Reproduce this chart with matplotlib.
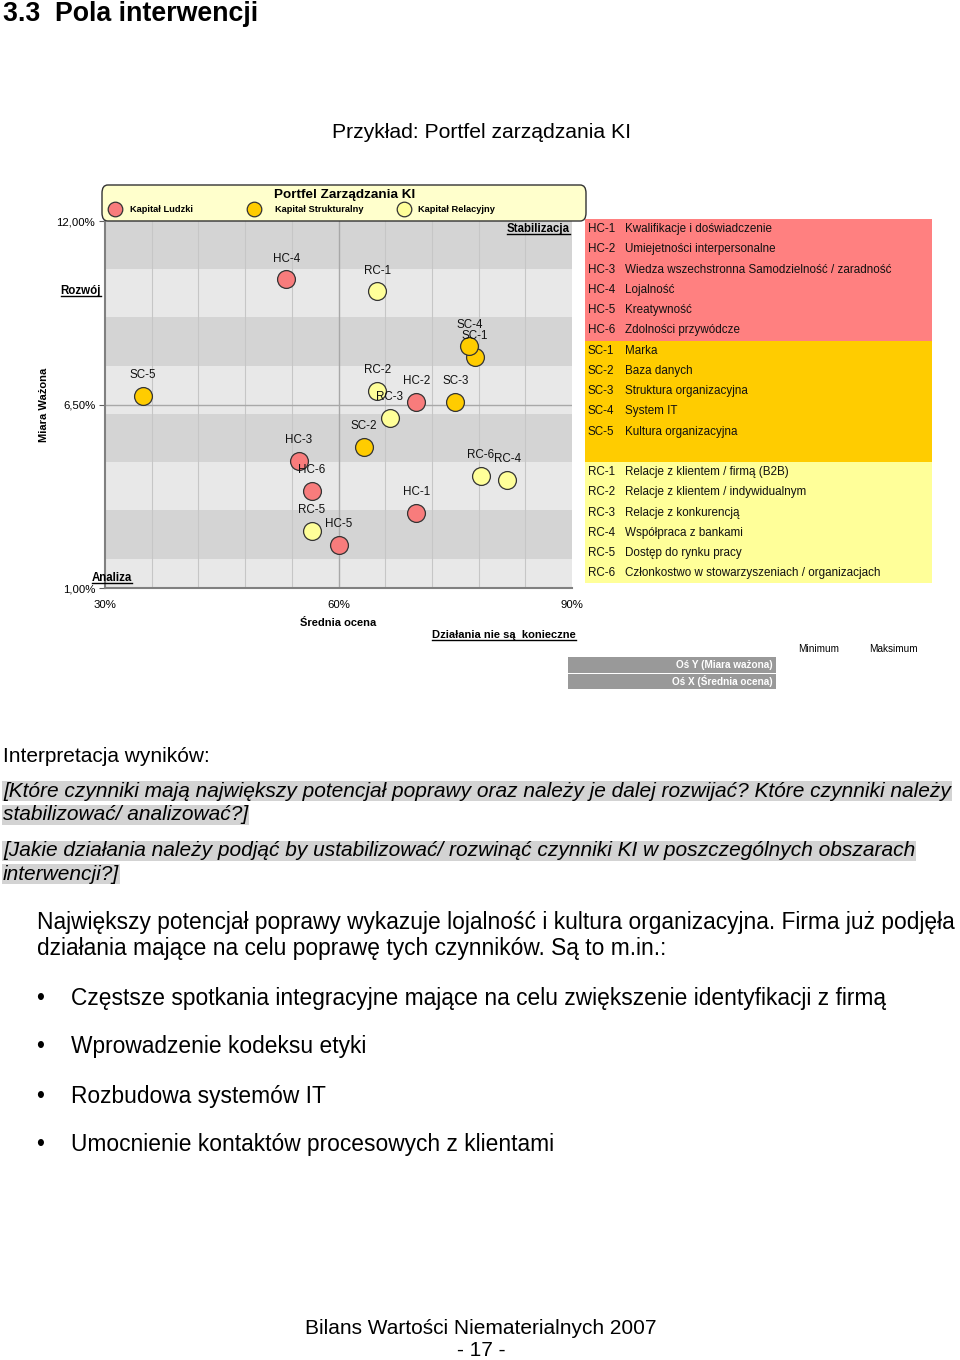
import numpy as np
import matplotlib
matplotlib.use('Agg')
import matplotlib.pyplot as plt
from matplotlib.patches import Rectangle, FancyBboxPatch
from matplotlib.lines import Line2D

plt.rcParams['font.family'] = ['Liberation Sans', 'DejaVu Sans']

# ---------------- data ----------------
codes = ['HC-1', 'HC-2', 'HC-3', 'HC-4', 'HC-5', 'HC-6',
         'SC-1', 'SC-2', 'SC-3', 'SC-4', 'SC-5',
         'RC-1', 'RC-2', 'RC-3', 'RC-4', 'RC-5', 'RC-6']
avg_score = [70.0, 70.0, 54.9, 53.3, 60.0, 56.6,
             77.5, 63.3, 75.0, 76.8, 34.9,
             65.0, 65.0, 66.6, 81.7, 56.6, 78.3]
weighted = [3.26, 6.58, 4.80, 10.25, 2.30, 3.92,
            7.93, 5.22, 6.58, 8.26, 6.76,
            9.89, 6.91, 6.09, 4.25, 2.72, 4.35]
descriptions = ['Kwalifikacje i doświadczenie', 'Umiejetności interpersonalne',
                'Wiedza wszechstronna Samodzielność / zaradność', 'Lojalność',
                'Kreatywność', 'Zdolności przywódcze',
                'Marka', 'Baza danych', 'Struktura organizacyjna', 'System IT',
                'Kultura organizacyjna',
                'Relacje z klientem / firmą (B2B)', 'Relacje z klientem / indywidualnym',
                'Relacje z konkurencją', 'Współpraca z bankami', 'Dostęp do rynku pracy',
                'Członkostwo w stowarzyszeniach / organizacjach']
groups = ['Kapitał Ludzki', 'Kapitał Strukturalny', 'Kapitał Relacyjny']
group_prefix = ['HC', 'SC', 'RC']
x_ticks = [30, 60, 90]
x_tick_labels = ['30%', '60%', '90%']
y_ticks = [1.0, 6.5, 12.0]
y_tick_labels = ['1,00%', '6,50%', '12,00%']
band_edges = [12.0, 10.55, 9.11, 7.66, 6.22, 4.77, 3.33, 1.88, 1.0]

# ---------------- style ----------------
marker_colors = {'HC': '#f87c7c', 'SC': '#ffcc00', 'RC': '#ffff99'}
table_colors = {'HC': '#ff8080', 'SC': '#ffcc00', 'RC': '#ffff99'}
W, H = 960, 1360
SMALL = 8.4

fig = plt.figure(figsize=(W / 100, H / 100), dpi=100)


def ftext(x, y, s, **kw):
    return fig.text(x / W, 1 - y / H, s, **kw)


def frect(x0, y0, x1, y1, **kw):
    r = Rectangle((x0 / W, 1 - y1 / H), (x1 - x0) / W, (y1 - y0) / H,
                  transform=fig.transFigure, **kw)
    fig.add_artist(r)
    return r


# ---------------- header ----------------
ftext(3, 14, '3.3  Pola interwencji', fontsize=19.3, fontweight='bold', va='center', ha='left')
ftext(482, 133, 'Przykład: Portfel zarządzania KI', fontsize=15.2, va='center', ha='center')

# ---------------- main axes ----------------
ax = fig.add_axes([105 / W, 1 - 588 / H, (572 - 105) / W, (588 - 221) / H])
ax.set_xlim(30, 90)
ax.set_ylim(1, 12)
for i in range(len(band_edges) - 1):
    ax.axhspan(band_edges[i + 1], band_edges[i],
               color='#d4d4d4' if i % 2 == 0 else '#e8e8e8', lw=0, zorder=0)
ax.set_xticks(np.arange(30, 91, 6), minor=True)
ax.grid(which='minor', axis='x', color='#c6c6c6', lw=0.8, zorder=1)
ax.set_axisbelow(True)
ax.axvline(60, color='#a8a8a8', lw=1.0, zorder=1)
ax.axhline(6.5, color='#a8a8a8', lw=1.0, zorder=1)

for p in ['HC', 'SC', 'RC']:
    xs = [x for c, x in zip(codes, avg_score) if c.startswith(p)]
    ys = [y for c, y in zip(codes, weighted) if c.startswith(p)]
    ax.scatter(xs, ys, s=165, color=marker_colors[p], edgecolor='#333333',
               linewidth=0.9, zorder=3, clip_on=False)
for c, x, y in zip(codes, avg_score, weighted):
    ax.annotate(c, (x, y), xytext=(0, 15), textcoords='offset points',
                ha='center', va='center', fontsize=SMALL, color='#111111', zorder=4)

ax.set_xticks(x_ticks)
ax.set_xticklabels(x_tick_labels, fontsize=8.2)
ax.set_yticks(y_ticks)
ax.set_yticklabels(y_tick_labels, fontsize=8.2)
ax.tick_params(axis='x', length=0, pad=9)
ax.tick_params(axis='y', length=4, pad=3, color='#606060')
ax.tick_params(which='minor', length=0)
for s in ['top', 'right']:
    ax.spines[s].set_visible(False)
for s in ['left', 'bottom']:
    ax.spines[s].set_color('#808080')
    ax.spines[s].set_linewidth(1.5)

# axis titles
ftext(338, 623, 'Średnia ocena', fontsize=8, fontweight='bold', ha='center', va='center')
ftext(44, 405, 'Miara Ważona', fontsize=8, fontweight='bold', ha='center', va='center',
      rotation=90)

# quadrant labels (underlined)
underlined = []
underlined.append(ftext(570, 232, 'Stabilizacja', fontsize=8.3, fontweight='bold',
                        ha='right', va='baseline'))
underlined.append(ftext(101, 294, 'Rozwój', fontsize=8.3, fontweight='bold',
                        ha='right', va='baseline'))
underlined.append(ftext(92, 581, 'Analiza', fontsize=8.3, fontweight='bold',
                        ha='left', va='baseline'))
underlined.append(ftext(504, 638, 'Działania nie są  konieczne', fontsize=8,
                        fontweight='bold', ha='center', va='baseline'))

# legend box
leg = FancyBboxPatch((102 / W, 1 - 221 / H), (586 - 102) / W, (221 - 185) / H,
                     boxstyle='round,pad=0,rounding_size=0.006',
                     transform=fig.transFigure, facecolor='#ffffcc',
                     edgecolor='#333333', lw=1.0, zorder=5)
fig.add_artist(leg)
ftext(345, 195, 'Portfel Zarządzania KI', fontsize=9.7, fontweight='bold',
      ha='center', va='center', zorder=6)
leg_marker_x = [115, 254, 404]
leg_text_x = [130, 275, 418]
for g, p, mx, tx in zip(groups, group_prefix, leg_marker_x, leg_text_x):
    fig.add_artist(Line2D([mx / W], [1 - 209 / H], marker='o', markersize=10.5,
                          markerfacecolor=marker_colors[p], markeredgecolor='#333333',
                          markeredgewidth=0.9, transform=fig.transFigure, zorder=6))
    ftext(tx, 209, g, fontsize=6.7, fontweight='bold', ha='left', va='center', zorder=6)

# ---------------- right table ----------------
row_h = (583.5 - 219) / 18
table_rows = codes[:11] + [None] + codes[11:]
table_desc = descriptions[:11] + [None] + descriptions[11:]
sections = [('HC', 0, 6), ('SC', 6, 12), ('RC', 12, 18)]
for p, a, b in sections:
    frect(585, 219 + a * row_h, 932, 219 + b * row_h, facecolor=table_colors[p],
          edgecolor='none')
for i, (c, d) in enumerate(zip(table_rows, table_desc)):
    if c is None:
        continue
    yc = 219 + (i + 0.5) * row_h
    ftext(588, yc, c, fontsize=SMALL, ha='left', va='center', color='#111111')
    ftext(625, yc, d, fontsize=SMALL, ha='left', va='center', color='#111111')

# min / max boxes
ftext(819, 649, 'Minimum', fontsize=7.2, ha='center', va='center')
ftext(893, 649, 'Maksimum', fontsize=7.2, ha='center', va='center')
frect(568, 657, 776, 672.5, facecolor='#999999', edgecolor='none')
frect(568, 673.5, 776, 689, facecolor='#999999', edgecolor='none')
ftext(773, 665, 'Oś Y (Miara ważona)', fontsize=7.2, fontweight='bold', color='white',
      ha='right', va='center')
ftext(773, 681, 'Oś X (Średnia ocena)', fontsize=7.2, fontweight='bold', color='white',
      ha='right', va='center')

# ---------------- body text ----------------
ftext(3, 756, 'Interpretacja wyników:', fontsize=15, ha='left', va='center')
hl = dict(facecolor='#d3d3d3', edgecolor='none', pad=0.6)
q_lines = [(791, '[Które czynniki mają największy potencjał poprawy oraz należy je dalej rozwijać? Które czynniki należy'),
           (815, 'stabilizować/ analizować?]'),
           (851, '[Jakie działania należy podjąć by ustabilizować/ rozwinąć czynniki KI w poszczególnych obszarach'),
           (874, 'interwencji?]')]
for y, s in q_lines:
    ftext(3, y, s, fontsize=15, style='italic', ha='left', va='center', bbox=hl)

BODY = 16.4
ftext(37, 923, 'Największy potencjał poprawy wykazuje lojalność i kultura organizacyjna. Firma już podjęła',
      fontsize=BODY, ha='left', va='center')
ftext(37, 949, 'działania mające na celu poprawę tych czynników. Są to m.in.:',
      fontsize=BODY, ha='left', va='center')
bullets = ['Częstsze spotkania integracyjne mające na celu zwiększenie identyfikacji z firmą',
           'Wprowadzenie kodeksu etyki',
           'Rozbudowa systemów IT',
           'Umocnienie kontaktów procesowych z klientami']
for y, s in zip([998, 1047, 1096, 1145], bullets):
    ftext(40, y, '•', fontsize=BODY, ha='center', va='center')
    ftext(71, y, s, fontsize=BODY, ha='left', va='center')

ftext(481, 1328, 'Bilans Wartości Niematerialnych 2007', fontsize=15, ha='center', va='center')
ftext(481, 1351, '- 17 -', fontsize=15, ha='center', va='center')

# underline the quadrant labels
fig.canvas.draw()
r = fig.canvas.get_renderer()
for t in underlined:
    bb = t.get_window_extent(r)
    yb = t.get_position()[1] * H - 2.0
    fig.add_artist(Line2D([bb.x0 / W, bb.x1 / W], [yb / H, yb / H],
                          transform=fig.transFigure, color='black', lw=1.0))

fig.savefig('out.png', dpi=100)
